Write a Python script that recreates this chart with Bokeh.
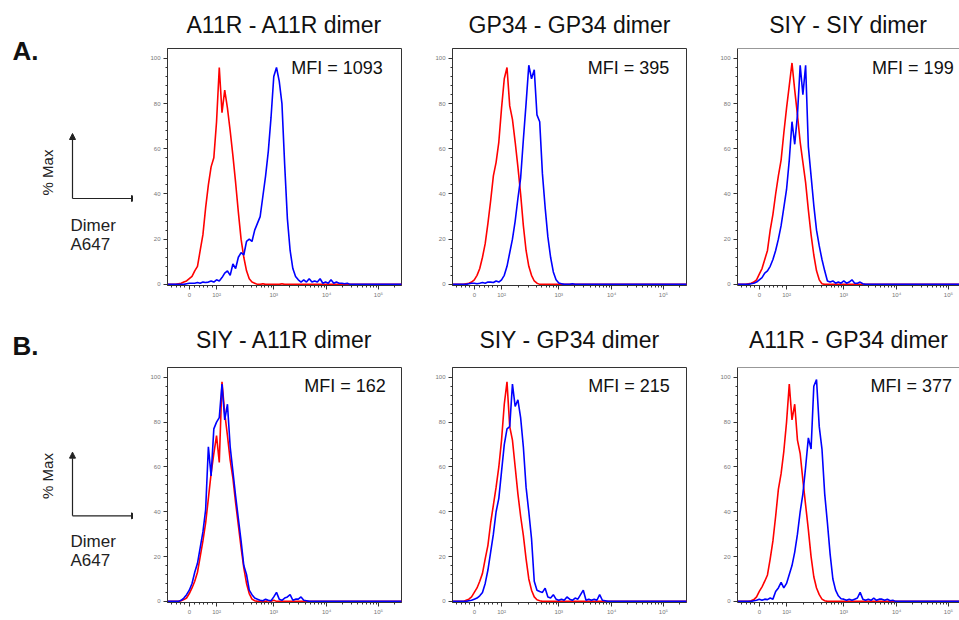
import math
from bokeh.plotting import figure
from bokeh.layouts import row, column
from bokeh.models import FixedTicker, Label, Range1d, Arrow, NormalHead, Span
from bokeh.embed import file_html
from bokeh.resources import INLINE

FONT = "Liberation Sans"

# ---------------- data ----------------
# bin positions on the display (biexponential) scale, in hundredths of a "decade unit"
BINS = [
    110, 115, 120, 125, 130, 135, 140, 145, 150, 155,
    160, 165, 170, 175, 180, 185, 190, 195, 200, 205,
    210, 215, 220, 225, 230, 235, 240, 245, 250, 255,
    260, 265, 270, 275, 280, 285, 290, 295, 300, 305,
    310, 315, 320, 325, 330, 335, 340, 345, 350, 355,
    360, 365, 370, 375, 380, 385, 390, 395, 400, 405,
    410, 415, 420, 425, 430, 435, 440, 445, 450, 455,
    460, 465, 470, 475, 480, 485, 490, 495, 500, 505,
    510, 515, 520, 525, 530, 535, 540,
]

TICK_POS = [150, 200, 305, 402, 497]
TICK_LABELS = ["0", "10\u00b2", "10\u00b3", "10\u2074", "10\u2075"]

TITLES = ["A11R - A11R dimer", "GP34 - GP34 dimer", "SIY - SIY dimer",
          "SIY - A11R dimer", "SIY - GP34 dimer", "A11R - GP34 dimer"]
MFI = ["MFI = 1093", "MFI = 395", "MFI = 199",
       "MFI = 162", "MFI = 215", "MFI = 377"]

# % of max, control (red) and dimer-stained (blue)
p1_red = [
    0, 0, 0, 0, 0.3, 0.5, 1, 1.5, 2.5, 3.5,
    6, 8, 15, 22, 34, 44, 52, 56, 72, 96,
    76, 86, 78, 68, 57, 45, 32, 20, 12, 6,
    2.5, 1, 0.5, 0, 0, 0.3, 0, 0, 0, 0,
    0, 0, 0.3, 0, 0, 0, 0, 0, 0, 0,
    0, 0, 0, 0, 0, 0, 0, 0, 0, 0,
    0, 0, 0, 0, 0, 0, 0, 0, 0, 0,
    0, 0, 0, 0, 0, 0, 0, 0, 0, 0,
    0, 0, 0, 0, 0, 0, 0,
]
p1_blue = [
    0, 0, 0, 0, 0, 0, 0, 0.3, 0.5, 0.5,
    0.5, 0.8, 0.5, 1, 0.8, 1, 1.5, 1, 2, 1.5,
    3, 5, 6, 4, 9, 7, 12, 14, 13, 19,
    20, 19, 24, 27, 30, 39, 48, 59, 74, 92,
    96, 90, 80, 53, 29, 15, 7, 3.5, 2, 1,
    2, 1, 2.5, 1, 1.5, 1, 2.5, 0.5, 1, 0.5,
    2, 0.5, 1, 0.5, 0.5, 0.3, 0.5, 0, 0, 0,
    0, 0, 0, 0, 0, 0, 0, 0, 0, 0,
    0, 0, 0, 0, 0, 0, 0,
]
p2_red = [
    0, 0, 0, 0, 0, 0.3, 0.5, 1, 2, 4,
    7, 12, 18, 27, 37, 48, 54, 63, 78, 91,
    96, 79, 73, 63, 52, 40, 26, 15, 8, 4,
    1.5, 0.5, 0, 0, 0, 0, 0, 0, 0, 0,
    0, 0, 0, 0, 0, 0, 0, 0, 0, 0,
    0, 0, 0, 0, 0, 0, 0, 0, 0, 0,
    0, 0, 0, 0, 0, 0, 0, 0, 0, 0,
    0, 0, 0, 0, 0, 0, 0, 0, 0, 0,
    0, 0, 0, 0, 0, 0, 0,
]
p2_blue = [
    0, 0, 0, 0, 0, 0, 0.3, 0.5, 0.5, 0.3,
    0.5, 0.8, 0.5, 1, 1, 0.8, 1.5, 1, 2, 4,
    8, 14, 20, 28, 38, 47, 64, 80, 97, 91,
    95, 75, 72, 49, 34, 21, 12, 5.5, 2, 0.6,
    0.3, 0, 0, 0, 0.3, 0, 0, 0, 0, 0,
    0, 0, 0, 0, 0, 0, 0, 0, 0, 0,
    0, 0, 0, 0, 0, 0, 0, 0, 0, 0,
    0, 0, 0, 0, 0, 0, 0, 0, 0, 0,
    0, 0, 0, 0, 0, 0, 0,
]
p3_red = [
    0, 0, 0, 0, 0.3, 0.5, 1, 2, 4.5, 7,
    11, 15, 24, 31, 40, 48, 55, 67, 78, 88,
    98, 86, 75, 63, 54, 45, 33, 22, 13, 6,
    2, 0.3, 0, 0, 0, 0, 0, 0, 0, 0,
    0, 0, 0, 0, 0, 0, 0, 0, 0, 0,
    0, 0, 0, 0, 0, 0, 0, 0, 0, 0,
    0, 0, 0, 0, 0, 0, 0, 0, 0, 0,
    0, 0, 0, 0, 0, 0, 0, 0, 0, 0,
    0, 0, 0, 0, 0, 0, 0,
]
p3_blue = [
    0, 0, 0, 0, 0, 0.3, 0.5, 1, 2, 3,
    5, 6, 8, 11, 15, 20, 26, 34, 42, 55,
    72, 62, 75, 97, 84, 97, 61, 48, 35, 24,
    17, 11, 6, 1.5, 1, 1.5, 0.5, 1, 0.5, 1.5,
    0.5, 1, 2, 0.5, 0.5, 1, 0.3, 0, 0, 0,
    0, 0, 0, 0, 0, 0, 0, 0, 0, 0,
    0, 0, 0, 0, 0, 0, 0, 0, 0, 0,
    0, 0, 0, 0, 0, 0, 0, 0, 0, 0,
    0, 0, 0, 0, 0, 0, 0,
]
p4_red = [
    0, 0, 0, 0, 0, 0.3, 0.8, 1.5, 3.5, 6,
    9, 13, 20, 27, 35, 46, 57, 66, 74, 62,
    98, 84, 74, 63, 55, 44, 34, 24, 15, 8,
    3.5, 1, 0.3, 0, 0, 0, 0, 0.3, 0, 0.5,
    0, 0, 0, 0, 0, 0, 0, 0, 0, 0,
    0, 0, 0, 0, 0, 0, 0, 0, 0, 0,
    0, 0, 0, 0, 0, 0, 0, 0, 0, 0,
    0, 0, 0, 0, 0, 0, 0, 0, 0, 0,
    0, 0, 0, 0, 0, 0, 0,
]
p4_blue = [
    0, 0, 0, 0, 0, 0.5, 1.5, 3, 5, 8,
    13, 17, 24, 31, 41, 69, 56, 77, 80, 82,
    97, 81, 88, 69, 58, 47, 37, 27, 16, 12,
    5, 3, 1.5, 1, 0.5, 0.3, 1, 0.5, 0.3, 2,
    4, 1, 0.5, 1.5, 2, 3, 0.5, 1, 1, 2,
    0.5, 0.3, 0, 0, 0, 0, 0, 0, 0, 0,
    0, 0, 0, 0, 0, 0, 0, 0, 0, 0,
    0, 0, 0, 0, 0, 0, 0, 0, 0, 0,
    0, 0, 0, 0, 0, 0, 0,
]
p5_red = [
    0, 0, 0, 0, 0, 0.5, 1, 2, 4, 6,
    9, 12.5, 19, 25, 35, 43, 51, 60, 72, 88,
    98, 78, 72, 60, 48, 38, 29.5, 19, 10, 5,
    2, 0.7, 0.3, 0, 0, 0, 0, 0, 0, 0,
    0, 0, 0, 0, 0, 0, 0, 0, 0, 0,
    0, 0, 0, 0, 0, 0, 0, 0, 0, 0,
    0, 0, 0, 0, 0, 0, 0, 0, 0, 0,
    0, 0, 0, 0, 0, 0, 0, 0, 0, 0,
    0, 0, 0, 0, 0, 0, 0,
]
p5_blue = [
    0, 0, 0, 0, 0, 0, 0.3, 0.5, 1, 1.5,
    2.5, 4, 8, 14, 22, 30, 40, 46, 58, 70,
    77, 78, 97, 87, 90, 82, 69, 51, 40, 28,
    9, 5, 4.4, 4, 5.9, 2, 1.5, 3, 1, 0.5,
    1, 0.5, 2, 1, 0.5, 1.5, 1, 3, 5, 0.5,
    1, 0.5, 1, 0.5, 3, 0.5, 0.3, 0, 0, 0,
    0, 0, 0, 0, 0, 0, 0, 0, 0, 0,
    0, 0, 0, 0, 0, 0, 0, 0, 0, 0,
    0, 0, 0, 0, 0, 0, 0,
]
p6_red = [
    0, 0, 0, 0, 0, 0.3, 0.8, 2, 4.5, 6.5,
    9, 11.8, 19, 27, 38, 50, 57, 67, 80, 97,
    81, 88, 72, 66, 54, 43, 32, 20, 11, 6,
    3, 1, 0.3, 0, 0, 0, 0, 0, 0, 0,
    0, 0, 0, 0, 0, 0, 0, 0, 0, 0,
    0, 0, 0, 0, 0, 0, 0, 0, 0, 0,
    0, 0, 0, 0, 0, 0, 0, 0, 0, 0,
    0, 0, 0, 0, 0, 0, 0, 0, 0, 0,
    0, 0, 0, 0, 0, 0, 0,
]
p6_blue = [
    0, 0, 0, 0, 0, 0, 0.3, 0.5, 1, 0.5,
    1, 0.8, 1.5, 1, 4.4, 6, 8.5, 6, 8, 12,
    16, 22, 30, 40, 48, 60, 73, 68, 96, 99,
    78, 68, 48, 35, 21, 10, 5, 2.5, 1.2, 1,
    0.5, 1, 0.5, 1, 1.5, 4, 1, 0.5, 1, 0.5,
    1.5, 0.5, 1, 1, 0.5, 1, 0.3, 0.5, 0, 0,
    0, 0, 0, 0, 0, 0, 0, 0, 0, 0,
    0, 0, 0, 0, 0, 0, 0, 0, 0, 0,
    0, 0, 0, 0, 0, 0, 0,
]

REDS = [p1_red, p2_red, p3_red, p4_red, p5_red, p6_red]
BLUES = [p1_blue, p2_blue, p3_blue, p4_blue, p5_blue, p6_blue]

# ---------------- styling / layout ----------------
PX_PER_UNIT = 0.545          # pixels per x unit
X0 = 110
Y_RANGE = (-0.5, 104.4)

X_MINOR = [118, 126, 134, 142, 160, 168, 176, 184, 192]
for start, span in ((200, 105), (305, 97), (402, 95)):
    X_MINOR += [start + span * math.log10(k) for k in range(2, 10)]
X_MINOR += [497 + 95 * math.log10(k) for k in range(2, 5)]
Y_MINOR = [v for v in range(4, 100, 4) if v % 20 != 0]


def make_panel(i, width, height, bl, br, bt, bb, standoff, mfi_x, mfi_y, open_right=False):
    frame_w = width - bl - br
    p = figure(width=width, height=height,
               x_range=Range1d(X0, X0 + frame_w / PX_PER_UNIT),
               y_range=Range1d(*Y_RANGE),
               output_backend="svg", toolbar_location=None,
               min_border_left=bl, min_border_right=br,
               min_border_top=bt, min_border_bottom=bb,
               title=TITLES[i])
    p.title.align = "center"
    p.title.vertical_align = "top"
    p.title.text_font = FONT
    p.title.text_font_size = "23px"
    p.title.text_font_style = "normal"
    p.title.text_color = "#111111"
    p.title.standoff = standoff
    p.grid.visible = False

    p.line(BINS, REDS[i], line_color="#ff0000", line_width=1.6)
    p.line(BINS, BLUES[i], line_color="#0000ff", line_width=1.6)

    xa = p.xaxis[0]
    xa.ticker = FixedTicker(ticks=TICK_POS, minor_ticks=X_MINOR)
    xa.major_label_overrides = {t: l for t, l in zip(TICK_POS, TICK_LABELS)}
    ya = p.yaxis[0]
    ya.ticker = FixedTicker(ticks=[0, 20, 40, 60, 80, 100], minor_ticks=Y_MINOR)
    for ax in (xa, ya):
        ax.axis_line_color = "#333333"
        ax.major_tick_line_color = "#333333"
        ax.minor_tick_line_color = "#333333"
        ax.major_tick_in = 0
        ax.major_tick_out = 4
        ax.minor_tick_in = 0
        ax.minor_tick_out = 2
        ax.major_label_text_font = FONT
        ax.major_label_text_font_size = "6px"
        ax.major_label_text_color = "#777777"
    xa.major_label_standoff = 2
    ya.major_label_standoff = 3

    if open_right:
        p.outline_line_color = None
        p.add_layout(Span(location=Y_RANGE[1], dimension="width",
                          line_color="#333333", line_width=1))
    else:
        p.outline_line_color = "#333333"
        p.outline_line_width = 1

    p.add_layout(Label(x=mfi_x, y=mfi_y, text=MFI[i], text_font=FONT,
                       text_font_size="18px", text_align="left",
                       text_baseline="middle", text_color="#111111"))
    return p


SIDE_W = 133


def make_side(height, frame_top, frame_bottom, letter, title_standoff,
              pct_y, arrow_top, corner_y, dimer_y):
    # the side figure's frame is aligned with the neighbouring panels' frames;
    # its y range is expressed in page pixels so annotations can be placed directly
    s = figure(width=SIDE_W, height=height, x_range=Range1d(0, SIDE_W),
               y_range=Range1d(frame_bottom, frame_top), output_backend="svg",
               toolbar_location=None, min_border=0,
               x_axis_location=None, y_axis_location=None)
    s.grid.visible = False
    s.outline_line_color = None
    s.title.text = letter
    s.title.align = "left"
    s.title.vertical_align = "bottom"
    s.title.offset = 12
    s.title.text_font = FONT
    s.title.text_font_size = "26px"
    s.title.text_font_style = "bold"
    s.title.text_color = "#111111"
    s.title.standoff = title_standoff
    s.add_layout(Label(x=47, y=pct_y, text="% Max", text_font=FONT,
                       text_font_size="15px", angle=math.pi / 2,
                       text_align="center", text_baseline="middle",
                       text_color="#222222"))
    head = dict(size=6, fill_color="#222222", line_color="#222222")
    s.add_layout(Arrow(end=NormalHead(**head), x_start=72, y_start=corner_y,
                       x_end=72, y_end=arrow_top, line_width=1.2, line_color="#222222"))
    s.add_layout(Arrow(end=NormalHead(**head), x_start=72, y_start=corner_y,
                       x_end=137, y_end=corner_y, line_width=1.2, line_color="#222222"))
    s.add_layout(Label(x=70, y=dimer_y, text="Dimer", text_font=FONT,
                       text_font_size="17px", text_baseline="middle",
                       text_color="#222222"))
    s.add_layout(Label(x=70, y=dimer_y + 18.5, text="A647", text_font=FONT,
                       text_font_size="17px", text_baseline="middle",
                       text_color="#222222"))
    s.scatter([0], [frame_top], size=0, alpha=0)
    return s


HA, HB = 311, 306
A_TOP, A_BOT = 48, HA - 26
B_TOP, B_BOT = HA + 56, HA + HB - 14

sideA = make_side(HA, A_TOP, A_BOT, "A.", -35, 172, 133, 198, 225)
sideB = make_side(HB, B_TOP, B_BOT, "B.", 13, 476, 452, 516, 542)

W3 = 959 - SIDE_W - 2 * 285
p1 = make_panel(0, 285, HA, 34, 17, 48, 26, 18, 337, 95.8)
p2 = make_panel(1, 285, HA, 34, 17, 48, 26, 18, 358, 95.8)
p3 = make_panel(2, W3, HA, 34, 0, 48, 26, 18, 357, 95.8, open_right=True)
p4 = make_panel(3, 285, HB, 34, 17, 56, 14, 26, 361, 96.0)
p5 = make_panel(4, 285, HB, 34, 17, 56, 14, 26, 359, 96.0)
p6 = make_panel(5, W3, HB, 34, 0, 56, 14, 26, 354, 96.0, open_right=True)

layout = column(row(sideA, p1, p2, p3), row(sideB, p4, p5, p6))

open("out.html", "w").write(file_html(layout, INLINE))
